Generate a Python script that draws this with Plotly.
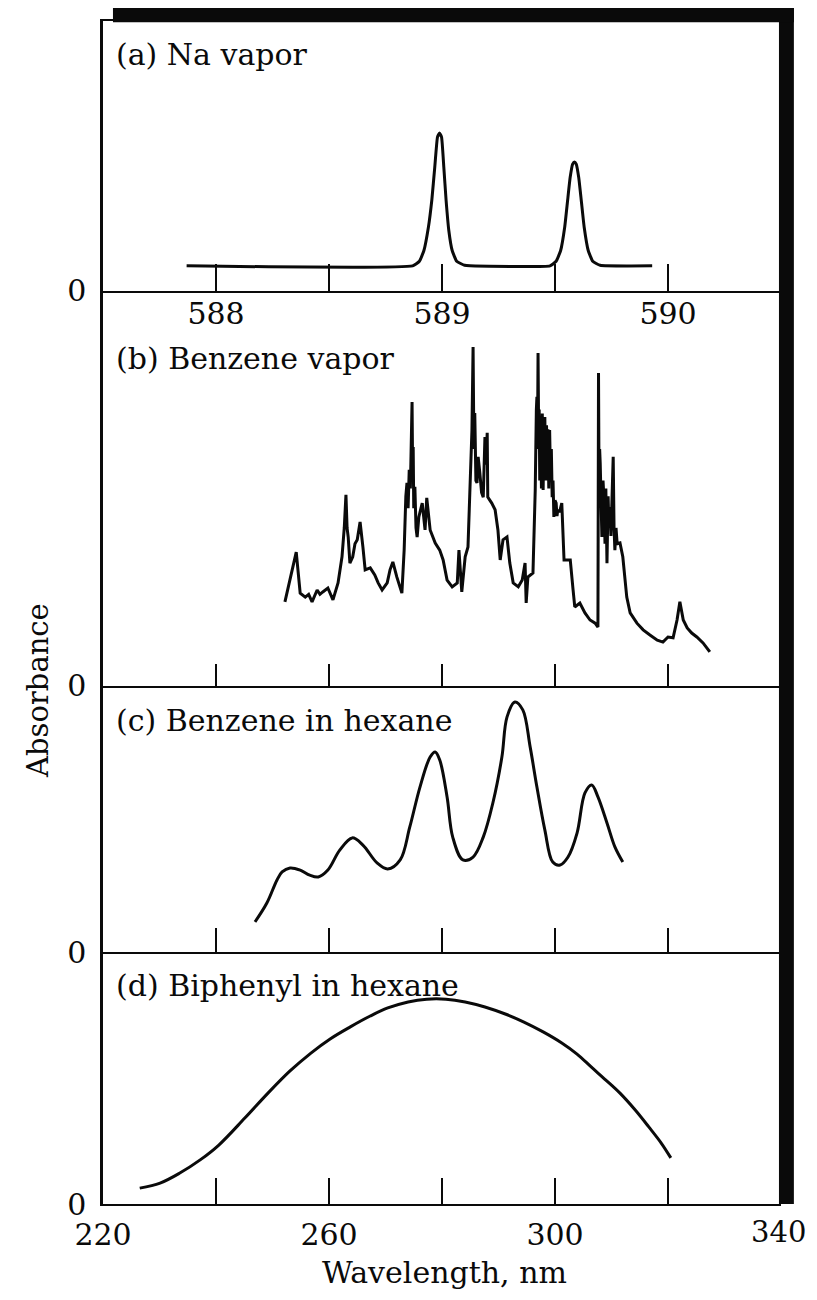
import plotly.graph_objects as go

# (a) Na vapor -- wavelength (nm), absorbance (relative to panel height)
na_nm = [587.87, 588.87, 588.90, 588.92, 588.94, 588.955, 588.968, 588.980, 588.989,
         588.998, 589.008, 589.018, 589.030, 589.045, 589.065, 589.10, 589.124,
         589.478, 589.505, 589.525, 589.543, 589.556, 589.567, 589.578, 589.586,
         589.594, 589.605, 589.616, 589.629, 589.647, 589.667, 589.70, 589.93]
na_abs = [0.093, 0.093, 0.110, 0.150, 0.237, 0.337, 0.459, 0.570, 0.585,
          0.570, 0.459, 0.337, 0.225, 0.150, 0.110, 0.095, 0.093,
          0.093, 0.110, 0.150, 0.237, 0.337, 0.420, 0.470, 0.478,
          0.470, 0.420, 0.337, 0.237, 0.150, 0.110, 0.095, 0.093]

# (b) Benzene vapor
bv_nm = [252.2, 253.5, 254.2, 254.9, 255.8, 256.4, 257.0, 257.9, 258.4, 258.9,
         259.8, 260.7, 261.6, 262.3, 262.7, 263.0, 263.2, 263.4, 263.7, 264.2,
         264.6, 265.0, 265.5, 266.0, 266.4, 267.3, 268.1, 268.7, 269.4, 270.3,
         270.8, 271.3, 272.0, 272.9, 273.3, 273.6, 273.8, 274.0, 274.2, 274.4,
         274.55, 274.7, 274.8, 274.9, 275.0, 275.2, 275.4, 275.6, 275.9, 276.5,
         277.0, 277.3, 277.9, 278.8, 279.6, 280.2, 280.9, 281.8, 282.7, 283.0,
         283.5, 284.1, 284.6, 285.0, 285.3, 285.5, 285.65, 285.8, 286.0, 286.2,
         286.4, 286.7, 287.0, 287.3, 287.5, 287.6, 287.8, 288.0, 288.1, 288.8,
         289.4, 289.9, 290.3, 290.8, 291.5, 292.0, 292.6, 293.5, 294.2, 294.7,
         294.9, 295.2, 296.1, 296.5, 296.7, 296.8, 296.9, 297.0, 297.1, 297.2,
         297.3, 297.45, 297.6, 297.75, 297.9, 298.05, 298.2, 298.35, 298.5, 298.6,
         298.75, 298.9, 299.05, 299.2, 299.35, 299.5, 299.65, 299.8, 300.0, 300.2,
         300.35, 300.5, 300.8, 301.2, 301.6, 302.7, 303.2, 303.5, 304.4, 305.3,
         306.2, 307.1, 307.6, 307.7, 307.8, 307.9, 308.0, 308.15, 308.3, 308.5,
         308.7, 308.85, 309.0, 309.2, 309.4, 309.55, 309.7, 309.9, 310.1, 310.3,
         310.45, 310.6, 310.8, 311.0, 311.5, 312.0, 312.7, 313.3, 314.5, 315.6,
         316.8, 318.1, 319.1, 320.0, 320.9, 321.6, 322.1, 322.7, 323.4, 324.2,
         325.1, 325.7, 326.2, 326.9, 327.4]
bv_abs = [0.213, 0.294, 0.339, 0.235, 0.225, 0.232, 0.213, 0.243, 0.232, 0.238,
          0.248, 0.218, 0.261, 0.327, 0.400, 0.484, 0.400, 0.377, 0.311, 0.327,
          0.360, 0.370, 0.415, 0.352, 0.294, 0.299, 0.281, 0.261, 0.243, 0.261,
          0.294, 0.314, 0.276, 0.235, 0.344, 0.480, 0.514, 0.450, 0.547, 0.500,
          0.660, 0.719, 0.550, 0.605, 0.450, 0.504, 0.400, 0.377, 0.428, 0.463,
          0.395, 0.476, 0.395, 0.362, 0.344, 0.319, 0.268, 0.251, 0.261, 0.344,
          0.238, 0.327, 0.352, 0.514, 0.648, 0.858, 0.600, 0.691, 0.520, 0.514,
          0.580, 0.539, 0.490, 0.478, 0.620, 0.630, 0.560, 0.641, 0.478, 0.463,
          0.446, 0.395, 0.319, 0.370, 0.377, 0.311, 0.261, 0.251, 0.268, 0.311,
          0.210, 0.276, 0.286, 0.496, 0.700, 0.732, 0.600, 0.843, 0.650, 0.700,
          0.520, 0.680, 0.500, 0.690, 0.496, 0.670, 0.681, 0.520, 0.660, 0.565,
          0.650, 0.500, 0.648, 0.530, 0.600, 0.478, 0.520, 0.428, 0.470, 0.463,
          0.430, 0.446, 0.440, 0.463, 0.319, 0.319, 0.243, 0.200, 0.210, 0.185,
          0.167, 0.159, 0.149, 0.792, 0.500, 0.600, 0.565, 0.420, 0.377, 0.520,
          0.463, 0.360, 0.500, 0.311, 0.480, 0.400, 0.453, 0.380, 0.520, 0.580,
          0.400, 0.344, 0.400, 0.360, 0.362, 0.327, 0.225, 0.185, 0.159, 0.142,
          0.129, 0.116, 0.111, 0.124, 0.122, 0.167, 0.213, 0.167, 0.147, 0.134,
          0.124, 0.116, 0.109, 0.096, 0.086]

# (c) Benzene in hexane
bh_nm = [246.9, 249.0, 250.8, 251.7, 253.1, 254.9, 256.6, 258.1, 259.8, 261.9,
         264.1, 266.0, 268.5, 270.4, 272.6, 274.3, 276.1, 277.9, 278.8, 279.6,
         280.9, 281.9, 283.7, 285.5, 287.3, 289.0, 290.6, 291.5, 292.9, 294.3,
         295.6, 296.8, 298.2, 299.6, 300.9, 302.3, 303.9, 305.3, 306.5, 307.6,
         309.2, 310.6, 312.0]
bh_abs = [0.113, 0.184, 0.271, 0.301, 0.316, 0.308, 0.289, 0.282, 0.308, 0.383,
          0.429, 0.402, 0.335, 0.312, 0.346, 0.470, 0.620, 0.733, 0.752, 0.722,
          0.583, 0.432, 0.346, 0.357, 0.432, 0.560, 0.733, 0.883, 0.940, 0.910,
          0.771, 0.620, 0.459, 0.338, 0.327, 0.357, 0.447, 0.598, 0.628, 0.583,
          0.485, 0.395, 0.338]

# (d) Biphenyl in hexane
bp_nm = [226.5, 230.1, 233.6, 237.2, 240.5, 245.1, 249.2, 253.1, 256.8, 260.2,
         263.7, 267.3, 270.4, 274.0, 277.3, 280.7, 284.1, 287.6, 291.2, 294.5,
         297.9, 301.2, 303.9, 306.4, 309.0, 311.5, 314.2, 316.6, 318.8, 320.5]
bp_abs = [0.063, 0.083, 0.123, 0.175, 0.234, 0.341, 0.440, 0.528, 0.599, 0.655,
          0.702, 0.746, 0.778, 0.802, 0.813, 0.813, 0.802, 0.782, 0.754, 0.722,
          0.683, 0.639, 0.595, 0.544, 0.492, 0.440, 0.373, 0.306, 0.242, 0.183]

na_ticks = [588, 588.5, 589, 589.5, 590]
na_ticktext = ["588", "", "589", "", "590"]
uv_ticks = [220, 240, 260, 280, 300, 320, 340]
# the last label (340) sits on the frame edge and is placed as an annotation
uv_ticktext = ["220", "", "260", "", "300", "", ""]
panel_labels = ["(a) Na vapor", "(b) Benzene vapor", "(c) Benzene in hexane",
                "(d) Biphenyl in hexane"]

FONT = "DejaVu Serif"
INK = "#0a0a0a"

fig = go.Figure()
series = [(na_nm, na_abs, 0.4), (bv_nm, bv_abs, None),
          (bh_nm, bh_abs, 1.0), (bp_nm, bp_abs, 1.0)]
for i, (x, y, smooth) in enumerate(series, start=1):
    line = dict(color=INK, width=3)
    if smooth is not None:
        line.update(shape="spline", smoothing=smooth)
    fig.add_trace(go.Scatter(
        x=x, y=y, mode="lines", xaxis=f"x{i}", yaxis=f"y{i}",
        line=line, showlegend=False,
    ))

# panel domains (fraction of plot height, bottom = 0)
domains = [[0.7718, 1.0], [0.4379, 0.7718], [0.2130, 0.4379], [0.0, 0.2130]]
ticklens = [27, 22, 24, 26]
label_standoff = [-5, 0, 0, 3]

# the page body adds an 8px margin on every side, so the figure is 16px smaller
layout = dict(
    width=801, height=1284,
    paper_bgcolor="white", plot_bgcolor="white",
    margin=dict(l=95, r=28, t=13, b=88),
    font=dict(family=FONT, size=30, color=INK),
)
for i in range(1, 5):
    xa = dict(
        anchor=f"y{i}", domain=[0, 1],
        showline=True, linecolor=INK, linewidth=2,
        ticks="inside", ticklen=ticklens[i - 1], tickwidth=2, tickcolor=INK,
        showgrid=False, zeroline=False, ticklabelstandoff=label_standoff[i - 1],
    )
    if i == 1:
        xa.update(range=[587.5, 590.5], tickvals=na_ticks, ticktext=na_ticktext,
                  mirror=True)
    else:
        xa.update(range=[220, 340], tickvals=uv_ticks,
                  ticktext=uv_ticktext if i == 4 else [""] * len(uv_ticks))
    ya = dict(
        anchor=f"x{i}", domain=domains[i - 1], range=[0, 1],
        showline=True, linecolor=INK, linewidth=2.5,
        tickvals=[0], ticktext=["0"], ticks="",
        showgrid=False, zeroline=False, ticklabelstandoff=8,
    )
    layout[f"xaxis{i}" if i > 1 else "xaxis"] = xa
    layout[f"yaxis{i}" if i > 1 else "yaxis"] = ya

fig.update_layout(**layout)

label_y = [0.972, 0.715, 0.409, 0.185]
for text, yy in zip(panel_labels, label_y):
    fig.add_annotation(text=text, xref="paper", yref="paper", x=0.016, y=yy,
                       xanchor="left", yanchor="middle", showarrow=False,
                       font=dict(family=FONT, size=30, color=INK))

fig.add_annotation(text="340", xref="paper", yref="paper", x=1.0395, y=-0.024,
                   xanchor="right", yanchor="middle", showarrow=False,
                   font=dict(family=FONT, size=29, color=INK))
fig.add_annotation(text="Absorbance", xref="paper", yref="paper", x=-0.096, y=0.4345,
                   textangle=-90, showarrow=False, xanchor="center", yanchor="middle",
                   font=dict(family=FONT, size=29, color=INK))
fig.add_annotation(text="Wavelength, nm", xref="paper", yref="paper", x=0.503, y=-0.0575,
                   showarrow=False, xanchor="center", yanchor="middle",
                   font=dict(family=FONT, size=30, color=INK))

# heavy right and top border of the printed frame
fig.add_shape(type="rect", xref="paper", yref="paper", x0=0.997, x1=1.019, y0=0.0, y1=1.011,
              fillcolor=INK, line=dict(width=0), layer="above")
fig.add_shape(type="rect", xref="paper", yref="paper", x0=0.0147, x1=1.019, y0=0.999, y1=1.011,
              fillcolor=INK, line=dict(width=0), layer="above")

fig.write_html("out.html")
